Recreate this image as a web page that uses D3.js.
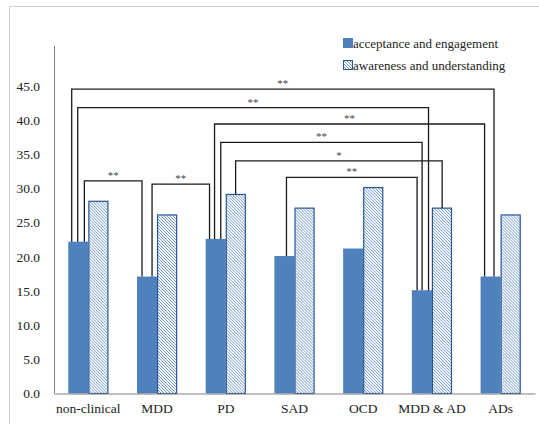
<!DOCTYPE html>
<html>
<head>
<meta charset="utf-8">
<script src="https://cdn.jsdelivr.net/npm/d3@7"></script>
<style>
  body { margin: 0; background: #fff; }
  svg, svg text { font-family: 'Liberation Serif', 'Times New Roman', Times, serif; }
</style>
</head>
<body>
<div id="chart"></div>
<script>
// Chart data
const categories = ['non-clinical', 'MDD', 'PD', 'SAD', 'OCD', 'MDD & AD', 'ADs'];
const seriesNames = ['acceptance and engagement', 'awareness and understanding'];
const acceptance = [22.2, 17.1, 22.6, 20.1, 21.2, 15.1, 17.1];
const awareness = [28.1, 26.1, 29.1, 27.1, 30.1, 27.1, 26.1];
const yTicks = [0, 5, 10, 15, 20, 25, 30, 35, 40, 45];

// significance brackets: [from category, from series, to category, to series, label, level]
const brackets = [
    [0, 0, 6, 0, '**', 44.5],
    [0, 0, 5, 0, '**', 41.8],
    [2, 0, 6, 0, '**', 39.4],
    [2, 0, 5, 0, '**', 36.7],
    [2, 1, 5, 1, '*', 34.0],
    [3, 0, 5, 0, '**', 31.6],
    [0, 0, 1, 0, '**', 31.1],
    [1, 0, 2, 0, '**', 30.6]
];
// where each bracket leg sits across its bar (0 = left edge, 1 = right edge)
const legOffsets = [
    [0.17, 0.67],
    [0.47, 0.83],
    [0.44, 0.2],
    [0.75, 0.51],
    [0.49, 0.51],
    [0.6, 0.26],
    [0.8, 0.25],
    [0.75, 0.19]
];

const width = 539, height = 424;
const margin = { left: 54, right: 4, top: 86, bottom: 31 };

const svg = d3.select('#chart').append('svg')
    .attr('width', width)
    .attr('height', height);

// hatch pattern
const defs = svg.append('defs');
const pat = defs.append('pattern')
    .attr('id', 'hatch')
    .attr('patternUnits', 'userSpaceOnUse')
    .attr('width', 3)
    .attr('height', 3);
pat.append('rect').attr('width', 3).attr('height', 3).attr('fill', '#fff');
pat.append('path')
    .attr('d', 'M0,0 L3,3 M-1,2 L1,4 M2,-1 L4,1')
    .attr('stroke', '#5b8bc9')
    .attr('stroke-width', 0.9);

// outer frame
svg.append('rect')
    .attr('x', 9.5).attr('y', 6.5)
    .attr('width', 560).attr('height', 440)
    .attr('fill', 'none')
    .attr('stroke', '#d0d0d0');

const x = d3.scaleBand()
    .domain(categories)
    .range([margin.left, width - margin.right])
    .paddingInner(0.416)
    .paddingOuter(0.208);

const sub = d3.scaleBand()
    .domain([0, 1])
    .range([0, x.bandwidth()]);

const y = d3.scaleLinear()
    .domain([0, 45])
    .range([393.5, 85.7]);

// y axis
const yAxis = svg.append('g')
    .attr('transform', `translate(${margin.left},0)`)
    .call(d3.axisLeft(y).tickValues(yTicks).tickFormat(d3.format('.1f')).tickSize(0).tickPadding(14))
    .attr('font-family', null);
yAxis.select('.domain').attr('stroke', '#808080').attr('d', `M0.5,${y(45) - 40}V${y(0)}`);
yAxis.selectAll('text')
    .attr('font-size', 13.5)
    .attr('fill', '#222');

// bars
const data = categories.map((c, i) => ({ c, vals: [acceptance[i], awareness[i]] }));
const groups = svg.append('g').selectAll('g')
    .data(data)
    .join('g')
    .attr('transform', d => `translate(${x(d.c)},0)`);

groups.selectAll('rect')
    .data(d => d.vals.map((v, k) => ({ v, k })))
    .join('rect')
    .attr('x', d => sub(d.k) + (d.k === 1 ? 0.5 : 0))
    .attr('y', d => y(d.v))
    .attr('width', d => sub.bandwidth() - (d.k === 1 ? 1 : 0))
    .attr('height', d => y(0) - y(d.v))
    .attr('fill', d => d.k === 0 ? '#4f81bd' : 'url(#hatch)')
    .attr('stroke', d => d.k === 0 ? 'none' : '#2b5596')
    .attr('stroke-width', 1.2);

// x axis
const xAxis = svg.append('g')
    .attr('transform', `translate(0,${y(0)})`)
    .call(d3.axisBottom(x).tickSize(0).tickPadding(10))
    .attr('font-family', null);
xAxis.select('.domain').attr('stroke', '#808080');
xAxis.selectAll('text')
    .attr('font-size', 13.5)
    .attr('fill', '#222');

// brackets
const legX = (ci, si, f) => x(categories[ci]) + sub(si) + f * sub.bandwidth();
const barTop = (ci, si) => y(si === 0 ? acceptance[ci] : awareness[ci]);

const br = svg.append('g');
brackets.forEach((b, i) => {
    const [c1, s1, c2, s2, label, level] = b;
    const x1 = legX(c1, s1, legOffsets[i][0]);
    const x2 = legX(c2, s2, legOffsets[i][1]);
    const ly = y(level);
    br.append('path')
        .attr('d', `M${x1},${barTop(c1, s1)}V${ly}H${x2}V${barTop(c2, s2)}`)
        .attr('fill', 'none')
        .attr('stroke', '#1a1a1a')
        .attr('stroke-width', 1.3);
    br.append('text')
        .attr('x', (x1 + x2) / 2)
        .attr('y', ly - 2)
        .attr('text-anchor', 'middle')
        .attr('font-size', 11)
        .attr('fill', '#444')
        .text(label);
});

// legend
const legend = svg.append('g').attr('transform', 'translate(343,38)');
seriesNames.forEach((name, i) => {
    const g = legend.append('g').attr('transform', `translate(0,${i * 22})`);
    g.append('rect')
        .attr('x', 0.5).attr('y', 0.5)
        .attr('width', 9).attr('height', 9)
        .attr('fill', i === 0 ? '#4f81bd' : 'url(#hatch)')
        .attr('stroke', i === 0 ? '#4f81bd' : '#2b5596');
    g.append('text')
        .attr('x', 10)
        .attr('y', 10)
        .attr('font-size', 13)
        .attr('fill', '#222')
        .text(name);
});
</script>
</body>
</html>
